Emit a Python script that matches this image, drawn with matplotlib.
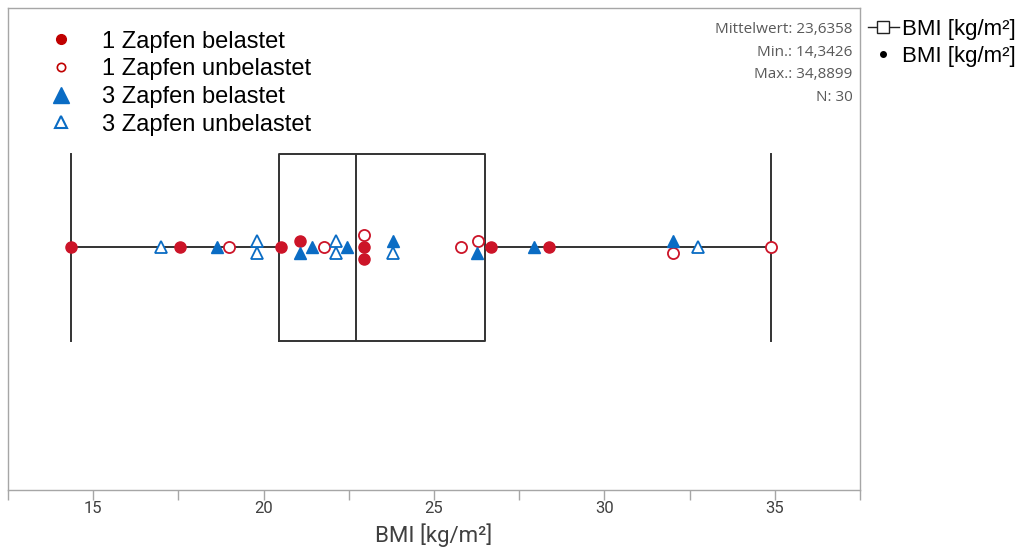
import matplotlib
matplotlib.use("Agg")
import matplotlib.pyplot as plt
import numpy as np
from matplotlib.lines import Line2D
from matplotlib.ticker import MultipleLocator, FuncFormatter

plt.rcParams['font.family'] = ['Liberation Sans', 'DejaVu Sans']

# ---- data (BMI values) ----
z1_bel = [14.34, 17.54, 20.51, 21.07, 22.95, 22.95, 26.66, 28.36]
z1_bel_lvl = [0, 0, 0, 1, 0, -2, 0, 0]          # dodge level of stacked points
z1_unb = [18.98, 21.76, 22.95, 25.78, 26.29, 32.00, 34.89]
z1_unb_lvl = [0, 0, 2, 0, 1, -1, 0]
z3_bel = [18.64, 21.07, 21.42, 22.46, 23.81, 26.27, 27.94, 32.00]
z3_bel_lvl = [0, -1, 0, 0, 1, -1, 0, 1]
z3_unb = [17.00, 19.81, 19.81, 22.12, 22.12, 23.81, 32.76]
z3_unb_lvl = [0, 1, -1, 1, -1, -1, 0]

# box statistics as drawn in the chart
box_q1 = 20.46
box_median = 22.70
box_q3 = 26.51
box_min = 14.3426
box_max = 34.8899

series_labels = ["1 Zapfen belastet", "1 Zapfen unbelastet",
                 "3 Zapfen belastet", "3 Zapfen unbelastet"]
stats_lines = ["Mittelwert: 23,6358", "Min.: 14,3426", "Max.: 34,8899", "N: 30"]
xlabel = "BMI [kg/m²]"
xticks_labeled = [15, 20, 25, 30, 35]

RED = "#CC1428"
BLUE = "#0A6CC4"

fig = plt.figure(figsize=(10.26, 5.5), dpi=100)
ax = fig.add_axes([8/1026, 60/550, 852/1026, 482/550])

box_w = 0.776
ax.bxp([dict(med=box_median, q1=box_q1, q3=box_q3, whislo=box_min, whishi=box_max, fliers=[])],
       positions=[0], widths=box_w, capwidths=box_w, orientation="horizontal",
       showfliers=False,
       boxprops=dict(color="#333333", lw=1.4),
       whiskerprops=dict(color="#333333", lw=1.4),
       capprops=dict(color="#333333", lw=1.4),
       medianprops=dict(color="#333333", lw=1.4), zorder=1)

step = 0.025
ms = 8
ax.plot(z1_bel, np.array(z1_bel_lvl) * step, ls="none", marker="o", ms=ms,
        mfc=RED, mec=RED, zorder=3)
ax.plot(z1_unb, np.array(z1_unb_lvl) * step, ls="none", marker="o", ms=ms,
        mfc="white", mec=RED, mew=1.3, zorder=3)
ax.plot(z3_bel, np.array(z3_bel_lvl) * step, ls="none", marker="^", ms=ms + 1,
        mfc=BLUE, mec=BLUE, zorder=3)
ax.plot(z3_unb, np.array(z3_unb_lvl) * step, ls="none", marker="^", ms=ms + 1,
        mfc="white", mec=BLUE, mew=1.3, zorder=3)

ax.set_xlim(12.5, 37.5)
ax.set_ylim(-1.008, 0.992)
ax.set_yticks([])
ax.xaxis.set_major_locator(MultipleLocator(2.5))
ax.xaxis.set_major_formatter(FuncFormatter(lambda v, p: f"{v:g}" if round(v) in xticks_labeled and abs(v - round(v)) < 1e-6 else ""))
ax.tick_params(axis="x", direction="out", length=7, color="#A6A6A6", width=1,
               labelsize=12, labelcolor="#404040", pad=1)
for lab in ax.get_xticklabels():
    lab.set_family(["Roboto", "DejaVu Sans"])
for s in ax.spines.values():
    s.set_color("#A6A6A6")
    s.set_linewidth(1)
ax.set_xlabel(xlabel, fontsize=16, color="#404040", family=["Roboto", "DejaVu Sans"], labelpad=5)

# stats text
for i, t in enumerate(stats_lines):
    ax.text(0.9915, 0.955 - i * 0.0467, t, transform=ax.transAxes, ha="right", va="center",
            fontsize=11, color="#595959", family=["Open Sans", "DejaVu Sans"])

# series legend
h = [Line2D([0], [0], ls="none", marker="o", ms=7, mfc="#C00000", mec="#C00000"),
     Line2D([0], [0], ls="none", marker="o", ms=6, mfc="white", mec="#C00000", mew=1.2),
     Line2D([0], [0], ls="none", marker="^", ms=11, mfc=BLUE, mec=BLUE),
     Line2D([0], [0], ls="none", marker="^", ms=8.5, mfc="white", mec=BLUE, mew=1.5)]
ax.legend(h, series_labels, loc="upper left", bbox_to_anchor=(0.016, 0.997), frameon=False,
          fontsize=17, handlelength=1.5, handletextpad=1.0, labelspacing=0.24, borderpad=0.4)

# outer legend
h2 = [Line2D([0], [0], color="#222222", lw=1, marker="s", ms=9, mfc="white", mec="#222222"),
      Line2D([0], [0], ls="none", marker="o", ms=4, mfc="black", mec="black")]
fig.legend(h2, [xlabel, xlabel], loc="upper left", bbox_to_anchor=(852/1026, 1 - 3/550),
           frameon=False, fontsize=16, handlelength=1.4, handletextpad=0.15, labelspacing=0.3,
           borderpad=0.2)

fig.savefig("out.png", dpi=100)
